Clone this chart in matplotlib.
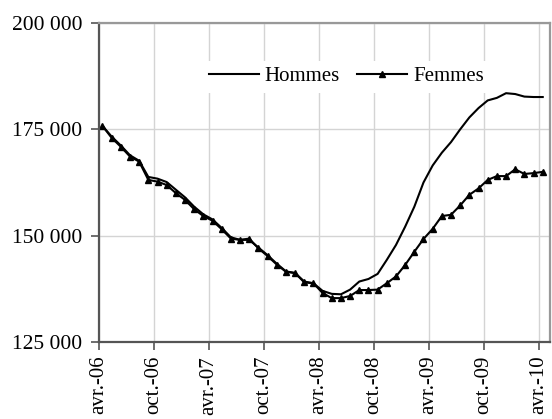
"""Demandeurs d'emploi par sexe, avr-06 a avr-10."""

import matplotlib

matplotlib.use("Agg")

import matplotlib.pyplot as plt
from matplotlib.ticker import FuncFormatter

# monthly values, avr.-06 .. avr.-10 (thousands)
hommes = [
    175.8, 173.3, 171.2, 168.9, 167.6, 163.8, 163.4, 162.6, 160.8, 159.0,
    156.8, 155.0, 153.8, 151.8, 149.6, 149.0, 149.0, 147.2, 145.4, 143.4,
    141.6, 141.2, 139.2, 138.8, 137.0, 136.3, 136.2, 137.3, 139.2, 139.8,
    141.0, 144.3, 147.8, 152.1, 156.8, 162.5, 166.5, 169.5, 172.0, 175.0,
    177.8, 180.0, 181.8, 182.4, 183.5, 183.3, 182.7, 182.6, 182.6,
]
femmes = [
    175.8, 173.0, 170.9, 168.6, 167.4, 163.1, 162.7, 161.9, 160.0, 158.4,
    156.2, 154.6, 153.5, 151.5, 149.3, 149.0, 149.3, 147.0, 145.2, 143.2,
    141.5, 141.2, 139.0, 138.8, 136.5, 135.3, 135.3, 135.8, 137.2, 137.2,
    137.3, 138.8, 140.4, 143.1, 146.2, 149.2, 151.6, 154.6, 154.9, 157.1,
    159.6, 161.1, 163.1, 164.0, 164.0, 165.6, 164.5, 164.7, 165.0,
]
tick_labels = ["avr.-06", "oct.-06", "avr.-07", "oct.-07", "avr.-08",
               "oct.-08", "avr.-09", "oct.-09", "avr.-10"]
y_ticks = [125000, 150000, 175000, 200000]

plt.rcParams["font.family"] = ["Liberation Serif", "DejaVu Serif"]

x = [i + 0.4 for i in range(len(hommes))]

fig = plt.figure(figsize=(5.52, 4.19), dpi=100)
ax = fig.add_axes([0.179, 0.184, 0.8175, 0.761])

ax.plot(x, [v * 1000 for v in hommes], color="black", lw=1.5, label="Hommes")
ax.plot(x, [v * 1000 for v in femmes], color="black", lw=1.5, marker="^",
        markersize=5, label="Femmes")

ax.set_xlim(0, 49.2)
ax.set_ylim(125000, 200000)
ax.set_xticks(range(0, 49, 6))
ax.set_xticklabels(tick_labels, rotation=90, fontsize=15)
ax.set_yticks(y_ticks)
ax.yaxis.set_major_formatter(FuncFormatter(lambda v, p: f"{v:,.0f}".replace(",", " ")))
ax.tick_params(axis="y", labelsize=15.5, length=6, width=1.2, color="#555555", pad=6)
ax.tick_params(axis="x", length=6, width=1.2, color="#555555", pad=4)

ax.grid(True, color="#d4d4d4", lw=1)
ax.set_axisbelow(True)
for side in ["left", "bottom"]:
    ax.spines[side].set_color("#555555")
    ax.spines[side].set_linewidth(1.6)
for side in ["top", "right"]:
    ax.spines[side].set_color("#999999")
    ax.spines[side].set_linewidth(1.6)

leg = ax.legend(ncol=2, loc="center", bbox_to_anchor=(0.548, 0.832), fontsize=15,
                handlelength=2.4, handletextpad=0.3, columnspacing=0.8,
                frameon=True, borderpad=0.3)
leg.get_frame().set_facecolor("white")
leg.get_frame().set_edgecolor("none")
leg.get_frame().set_alpha(1)
leg.get_frame().set_boxstyle("square", pad=0)

fig.savefig("out.png", dpi=100)
plt.close(fig)
